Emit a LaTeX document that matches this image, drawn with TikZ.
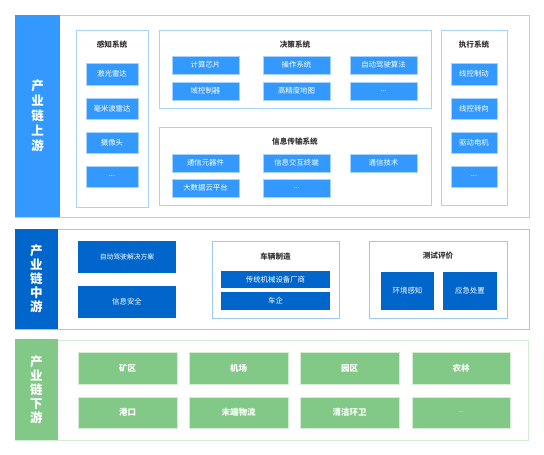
\documentclass[tikz,border=0pt]{standalone}
\usepackage{fontspec}
\setmainfont{Noto Sans CJK SC}
\definecolor{upblue}{HTML}{3399FF}
\definecolor{upline}{HTML}{A9D3FF}
\definecolor{midblue}{HTML}{0066CC}
\definecolor{midline}{HTML}{9CC8F2}
\definecolor{lowgreen}{HTML}{82C886}
\definecolor{lowline}{HTML}{D2EDD3}
\definecolor{titletxt}{HTML}{333333}
\newcommand\bx[7]{\node[#6, minimum width={#4pt-#2pt}, minimum height={#5pt-#3pt}] (#1) at ({(#2+#4)/2},{(#3+#5)/2}) {#7};}
\tikzset{
  base/.style={rectangle, inner sep=0pt, outer sep=0pt},
  upouter/.style={base, draw=upline, line width=1pt, fill=white},
  upgroup/.style={base, draw=upline, line width=0.8pt, fill=white},
  upitem/.style={base, fill=upblue, draw=upline, line width=0.4pt, text=white, font=\fontsize{7.4}{8}\selectfont},
  uplabel/.style={base, fill=upblue, text=white, align=center, font=\bfseries\fontsize{12.5}{15}\selectfont},
  midouter/.style={base, draw=midline, line width=1pt, fill=white},
  midgroup/.style={base, draw=midline, line width=0.8pt, fill=white},
  miditem/.style={base, fill=midblue, text=white, font=\fontsize{7.4}{8}\selectfont},
  midlabel/.style={base, fill=midblue, text=white, align=center, font=\bfseries\fontsize{12.5}{14}\selectfont},
  lowouter/.style={base, draw=lowline, line width=1pt, fill=white},
  lowitem/.style={base, fill=lowgreen, draw=lowline, line width=0.4pt, text=white, font=\bfseries\fontsize{8.5}{9}\selectfont},
  lowlabel/.style={base, fill=lowgreen, text=white, align=center, font=\bfseries\fontsize{12.5}{14}\selectfont},
  grouptitle/.style={inner sep=0pt, text=titletxt, font=\bfseries\fontsize{7.6}{8}\selectfont},
}
\begin{document}
\begin{tikzpicture}[x=1pt,y=-1pt]
\useasboundingbox (0,0) rectangle (544,455);
% ---------- upstream ----------
\bx{upout}{15}{15}{529}{217}{upouter}{}
\bx{uplab}{15}{15}{60}{217}{uplabel}{产\\业\\链\\上\\游}
% perception
\bx{sense}{76}{30}{148}{207}{upgroup}{}
\node[grouptitle] (senset) at (112,45) {感知系统};
\bx{s1}{86}{63}{138}{85}{upitem}{激光雷达}
\bx{s2}{86}{98}{138}{119}{upitem}{毫米波雷达}
\bx{s3}{86}{132}{138}{153}{upitem}{摄像头}
\bx{s4}{86}{166}{138}{187}{upitem}{...}
% decision
\bx{dec}{159}{30}{431}{108}{upgroup}{}
\node[grouptitle] (dect) at (295,45) {决策系统};
\bx{d1}{172}{56}{239}{74}{upitem}{计算芯片}
\bx{d2}{263}{56}{330}{74}{upitem}{操作系统}
\bx{d3}{350}{56}{417}{74}{upitem}{自动驾驶算法}
\bx{d4}{172}{82}{239}{100}{upitem}{域控制器}
\bx{d5}{263}{82}{330}{100}{upitem}{高精度地图}
\bx{d6}{350}{82}{417}{100}{upitem}{...}
% info transmission
\bx{inf}{159}{127}{431}{205}{upgroup}{}
\node[grouptitle] (inft) at (295,142) {信息传输系统};
\bx{i1}{172}{154}{239}{172}{upitem}{通信元器件}
\bx{i2}{263}{154}{330}{172}{upitem}{信息交互终端}
\bx{i3}{350}{154}{417}{172}{upitem}{通信技术}
\bx{i4}{172}{179}{239}{197}{upitem}{大数据云平台}
\bx{i5}{263}{179}{330}{197}{upitem}{...}
% execution
\bx{exe}{441}{30}{507}{205}{upgroup}{}
\node[grouptitle] (exet) at (474,45) {执行系统};
\bx{e1}{451}{63}{497}{85}{upitem}{线控制动}
\bx{e2}{451}{98}{497}{119}{upitem}{线控转向}
\bx{e3}{451}{132}{497}{153}{upitem}{驱动电机}
\bx{e4}{451}{166}{497}{187}{upitem}{...}
% ---------- midstream ----------
\bx{midout}{15}{229}{529}{329}{midouter}{}
\bx{midlab}{15}{229}{58}{329}{midlabel}{产\\业\\链\\中\\游}
\bx{m1}{78}{241}{176}{273}{miditem}{\fontsize{6.8}{8}\selectfont 自动驾驶解决方案}
\bx{m2}{78}{286}{176}{318}{miditem}{信息安全}
\bx{veh}{212}{241}{339}{318}{midgroup}{}
\node[grouptitle] (veht) at (275.5,257) {车辆制造};
\bx{v1}{221}{271}{330}{288}{miditem}{传统机械设备厂商}
\bx{v2}{221}{292}{330}{310}{miditem}{车企}
\bx{tst}{369}{241}{507}{318}{midgroup}{}
\node[grouptitle] (tstt) at (438,256) {测试评价};
\bx{t1}{381}{272}{434}{310}{miditem}{环境感知}
\bx{t2}{443}{272}{497}{310}{miditem}{应急处置}
% ---------- downstream ----------
\bx{lowout}{15}{340}{528}{440}{lowouter}{}
\bx{lowlab}{15}{339}{58}{440}{lowlabel}{产\\业\\链\\下\\游}
\bx{l1}{78}{352}{177}{384}{lowitem}{矿区}
\bx{l2}{189}{352}{288}{384}{lowitem}{机场}
\bx{l3}{300}{352}{399}{384}{lowitem}{园区}
\bx{l4}{412}{352}{510}{384}{lowitem}{农林}
\bx{l5}{78}{397}{177}{428}{lowitem}{港口}
\bx{l6}{189}{397}{288}{428}{lowitem}{末端物流}
\bx{l7}{300}{397}{399}{428}{lowitem}{清洁环卫}
\bx{l8}{412}{397}{510}{428}{lowitem}{\mdseries\fontsize{6}{7}\selectfont ...}
\end{tikzpicture}
\end{document}
